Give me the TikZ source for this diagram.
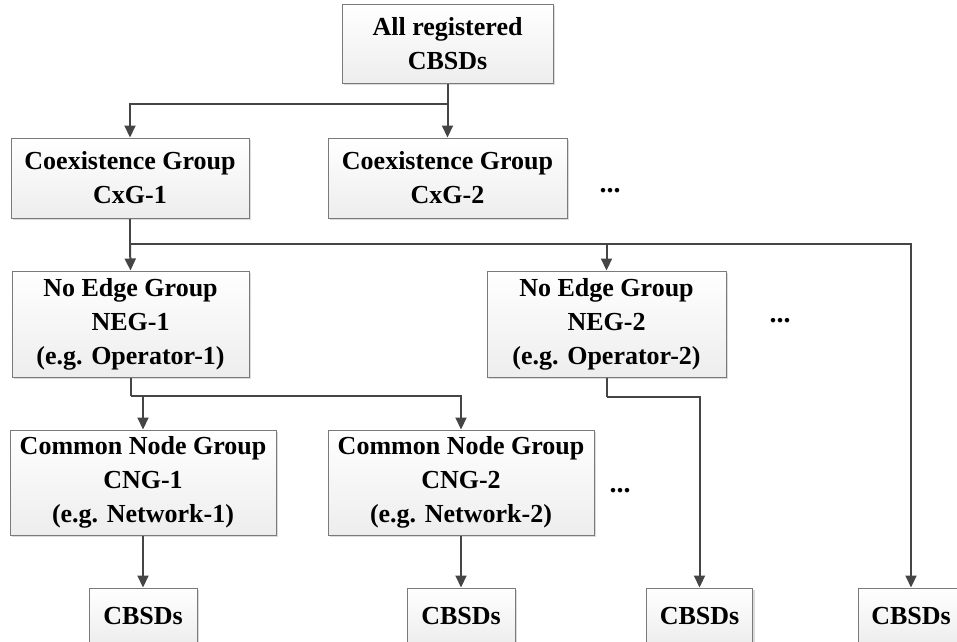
\documentclass[tikz,border=0pt]{standalone}
\usepackage{fontspec}
\setmainfont{Liberation Serif}
\usetikzlibrary{arrows.meta,shadows}
\definecolor{linec}{HTML}{454545}
\definecolor{boxline}{HTML}{7A7A7A}
\begin{document}
\begin{tikzpicture}[x=1pt,y=-1pt,
  box/.style={draw=boxline,line width=1pt,top color=white,bottom color=gray!14,
    drop shadow={shadow xshift=2pt,shadow yshift=-2pt,fill=gray!35,opacity=0.8},
    align=center,inner sep=0pt,
    font=\fontsize{26}{34}\selectfont\bfseries},
  conn/.style={draw=linec,line width=2pt},
  arr/.style={conn,-{Triangle[width=11pt,length=12pt]}},
  dots/.style={font=\fontsize{28}{34}\selectfont\bfseries,inner sep=0pt}]
\useasboundingbox (0,0) rectangle (957,641);
\node[box,minimum width=211pt,minimum height=79pt] (top) at (447.5,43.5) {All registered\\CBSDs};
\node[box,minimum width=238pt,minimum height=80pt] (cxg1) at (130,178) {Coexistence Group\\CxG-1};
\node[box,minimum width=239pt,minimum height=80pt] (cxg2) at (447.5,178) {Coexistence Group\\CxG-2};
\node[box,minimum width=237pt,minimum height=106pt] (neg1) at (130.5,324) {No Edge Group\\NEG-1\\(e.g. Operator-1)};
\node[box,minimum width=239pt,minimum height=106pt] (neg2) at (606.5,324) {No Edge Group\\NEG-2\\(e.g. Operator-2)};
\node[box,minimum width=266pt,minimum height=105pt] (cng1) at (143,482.5) {Common Node Group\\CNG-1\\(e.g. Network-1)};
\node[box,minimum width=266pt,minimum height=105pt] (cng2) at (461,482.5) {Common Node Group\\CNG-2\\(e.g. Network-2)};
\node[box,minimum width=108pt,minimum height=56pt] (cb1) at (143,616) {CBSDs};
\node[box,minimum width=108pt,minimum height=56pt] (cb2) at (461,616) {CBSDs};
\node[box,minimum width=106pt,minimum height=56pt] (cb3) at (699.5,616) {CBSDs};
\node[box,minimum width=106pt,minimum height=56pt] (cb4) at (911,616) {CBSDs};
\node[dots] (d1) at (610,191) {...};
\node[dots] (d2) at (780,321) {...};
\node[dots] (d3) at (620,491) {...};
% connectors
\coordinate (j1) at (447.5,104);
\draw[conn] (top.south) -- (j1);
\draw[arr] (j1) -| (cxg1.north);
\draw[arr] (j1) -- (cxg2.north);
\coordinate (j2) at (130,244);
\draw[conn] (cxg1.south) -- (j2);
\draw[arr] (j2) -- (neg1.north);
\draw[arr] (j2) -| (neg2.north);
\draw[arr] (j2) -| (cb4.north);
\coordinate (j3) at (130.5,396);
\draw[conn] (neg1.south) -- (j3);
\draw[arr] (j3) -| (cng1.north);
\draw[arr] (j3) -| (cng2.north);
\coordinate (j4) at (606.5,397);
\draw[conn] (neg2.south) -- (j4);
\draw[arr] (j4) -| (cb3.north);
\draw[arr] (cng1.south) -- (cb1.north);
\draw[arr] (cng2.south) -- (cb2.north);
\end{tikzpicture}
\end{document}
